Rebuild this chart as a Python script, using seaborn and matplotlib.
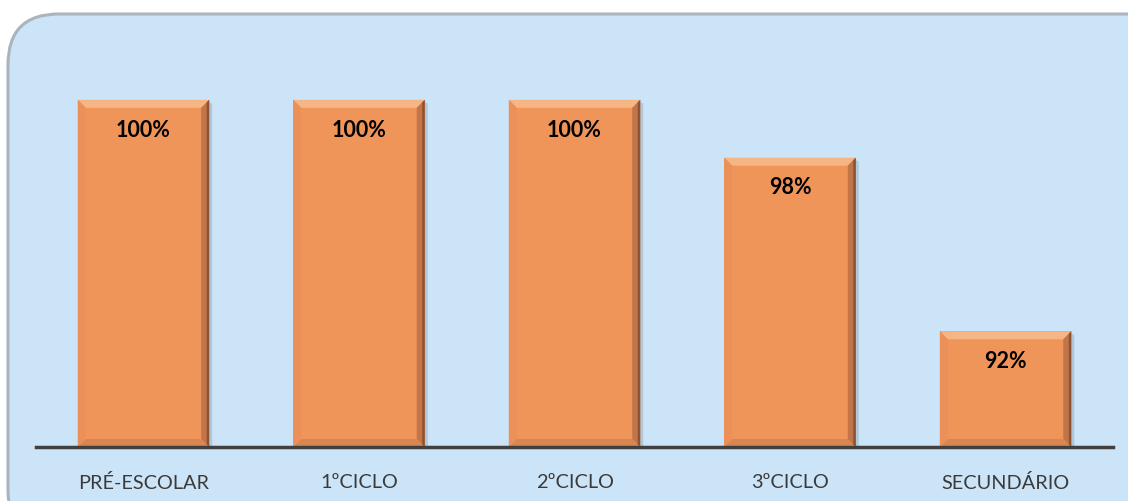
import matplotlib
matplotlib.use("Agg")
import matplotlib.pyplot as plt
import seaborn as sns
import numpy as np
from matplotlib.patches import FancyBboxPatch, Polygon

categories = ["PRÉ-ESCOLAR", "1ºCICLO", "2ºCICLO", "3ºCICLO", "SECUNDÁRIO"]
values = [100, 100, 100, 98, 92]
labels = ["100%", "100%", "100%", "98%", "92%"]

sns.set_theme(style="white")
plt.rcParams["font.family"] = ["Lato", "DejaVu Sans"]

W, H = 1128, 502
fig = plt.figure(figsize=(W / 100, H / 100), dpi=100, facecolor="white")

# rounded background panel
panel = FancyBboxPatch((8 / W, -40 / H), (W + 40) / W, (H + 40 - 15) / H,
                       boxstyle="round,pad=0,rounding_size=0.045",
                       transform=fig.transFigure, facecolor="#cce4f7",
                       edgecolor="#a9b4bd", linewidth=2.2, zorder=-5,
                       mutation_aspect=W / H)
fig.patches.append(panel)

ax = fig.add_axes([35.7 / W, 54 / H, 1077.6 / W, 405 / H])
ax.set_facecolor("none")
ax.set_zorder(2)

bar_color = "#f0955a"
sns.barplot(x=categories, y=values, color=bar_color, width=0.61,
            saturation=1, ax=ax, zorder=2, linewidth=0)
ax.set_ylim(88, 102)
ax.set_xlim(-0.5, len(categories) - 0.5)

# bevel effect derived from the drawn bars
xpp = 5.0 / 1077.6
ypp = 14.0 / 405
bw = 8
for p in list(ax.patches):
    x0, y0 = p.get_x(), p.get_y()
    x1, y1 = x0 + p.get_width(), y0 + p.get_height()
    y0 = max(y0, ax.get_ylim()[0])
    dx, dy = bw * xpp, bw * ypp
    # drop shadow
    ax.add_patch(Polygon([(x1, y1 - 2 * ypp), (x1 + 3 * xpp, y1 - 4 * ypp),
                          (x1 + 3 * xpp, y0), (x1, y0)],
                         closed=True, facecolor="#8a9aa8", alpha=0.4,
                         linewidth=0, zorder=1.5))
    ax.add_patch(Polygon([(x0, y1), (x1, y1), (x1 - dx, y1 - dy), (x0 + dx, y1 - dy)],
                         closed=True, facecolor="#f5b584", linewidth=0, zorder=3))
    ax.add_patch(Polygon([(x1, y1), (x1, y0), (x1 - dx, y0 + dy), (x1 - dx, y1 - dy)],
                         closed=True, facecolor="#c27548", linewidth=0, zorder=3))
    ax.add_patch(Polygon([(x1, y1), (x1, y0), (x1 - 2.5 * xpp, y0 + 2.5 * ypp),
                          (x1 - 2.5 * xpp, y1 - 2.5 * ypp)],
                         closed=True, facecolor="#8c5434", linewidth=0, zorder=3.1))
    ax.add_patch(Polygon([(x0, y0), (x1, y0), (x1 - dx, y0 + dy), (x0 + dx, y0 + dy)],
                         closed=True, facecolor="#d98752", linewidth=0, zorder=3))
    ax.add_patch(Polygon([(x0, y1), (x0, y0), (x0 + dx, y0 + dy), (x0 + dx, y1 - dy)],
                         closed=True, facecolor="#eb9058", linewidth=0, zorder=3))

for i, (v, lab) in enumerate(zip(values, labels)):
    ax.annotate(lab, xy=(i, v), xytext=(0, -21), textcoords="offset points",
                ha="center", va="center", fontsize=15.5, fontweight="bold",
                color="black", zorder=5)

for s in ["top", "right", "left"]:
    ax.spines[s].set_visible(False)
ax.spines["bottom"].set_color("#404040")
ax.spines["bottom"].set_linewidth(2.5)
ax.spines["bottom"].set_zorder(4)
ax.set_yticks([])
ax.set_xlabel("")
ax.set_ylabel("")
ax.tick_params(axis="x", length=0, pad=19, labelsize=14.3, labelcolor="#3a3a3a")

fig.savefig("out.png", dpi=100, facecolor="white")
